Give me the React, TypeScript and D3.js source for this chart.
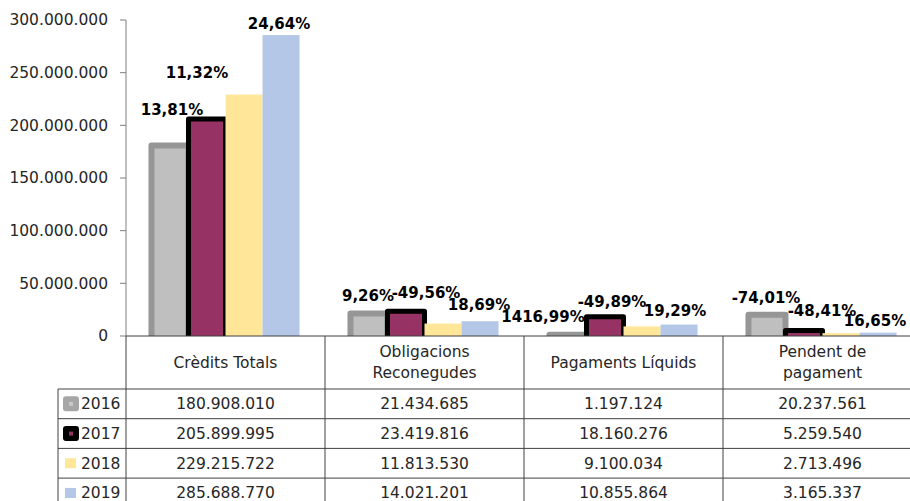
import React from "react";
import * as d3 from "d3";

const W = 910;
const H = 501;

const categories = ["Crèdits Totals", "Obligacions Reconegudes", "Pagaments Líquids", "Pendent de pagament"];
const headerLines = [["Crèdits Totals"], ["Obligacions", "Reconegudes"], ["Pagaments Líquids"], ["Pendent de", "pagament"]];
const years = ["2016", "2017", "2018", "2019"];

const values2016 = [180908010, 21434685, 1197124, 20237561];
const values2017 = [205899995, 23419816, 18160276, 5259540];
const values2018 = [229215722, 11813530, 9100034, 2713496];
const values2019 = [285688770, 14021201, 10855864, 3165337];
const seriesValues = [values2016, values2017, values2018, values2019];

// % change labels shown above 2017, 2018, 2019 bars
const pctLabels = [
  ["13,81%", "11,32%", "24,64%"],
  ["9,26%", "-49,56%", "18,69%"],
  ["1416,99%", "-49,89%", "19,29%"],
  ["-74,01%", "-48,41%", "16,65%"],
];

const yTicks = [0, 50e6, 100e6, 150e6, 200e6, 250e6, 300e6];

// manual label nudges (dx from bar centre, dy from bar top), like the hand-placed Excel labels
const nudges = [
  [[-35, -9], [-47, -22], [-2, -11]],
  [[-38, -16], [-17, -31], [-1, -16]],
  [[-62, 0], [-30, -25], [-4, -14]],
  [[-38, -33], [-19, -22], [-3, -12]],
];

const FILL = ["#bfbfbf", "#963264", "#ffe699", "#b4c7e7"];
const STROKE = ["#969696", "#000000", "none", "none"];
const STROKE_W = [6, 5, 0, 0];

const FONT = "'DejaVu Sans', sans-serif";
const TEXT = "#262626";
const GRID = "#404040";

const fmt = (v: number) => d3.format(",")(v).replace(/,/g, ".");

export default function App() {
  const plotLeft = 126;
  const plotTop = 20;
  const baseY = 336;

  const y = d3.scaleLinear().domain([0, 300e6]).range([baseY, plotTop]);
  const x0 = d3
    .scaleBand<string>()
    .domain(categories)
    .range([plotLeft, 922])
    .paddingInner(0.256)
    .paddingOuter(0.128);
  const x1 = d3.scaleBand<string>().domain(years).range([0, x0.bandwidth()]);
  const cols = d3.scaleBand<string>().domain(categories).range([plotLeft, 922]);

  const rowTop = 389;
  const rowH = 29.7;
  const tableLeft = 58;

  return (
    <svg
      width={W}
      height={H}
      style={{ position: "absolute", left: 0, top: 0, background: "#fff" }}
      fontFamily={FONT}
    >
      <defs>
        <clipPath id="plotClip">
          <rect x={plotLeft} y={0} width={W} height={baseY} />
        </clipPath>
      </defs>

      {/* y axis */}
      <line x1={plotLeft} x2={plotLeft} y1={y(300e6)} y2={baseY} stroke="#7f7f7f" />
      {yTicks.map((t) => (
        <g key={t} transform={`translate(0,${y(t)})`}>
          <line x1={plotLeft - 6} x2={plotLeft} stroke="#7f7f7f" />
          <text x={108} dy="0.35em" textAnchor="end" fontSize={15.5} fill={TEXT}>
            {fmt(t)}
          </text>
        </g>
      ))}

      {/* bars */}
      <g clipPath="url(#plotClip)">
        {years.map((yr, j) =>
          categories.map((c, i) => {
            const v = seriesValues[j][i];
            const bx = (x0(c) ?? 0) + (x1(yr) ?? 0);
            return (
              <rect
                key={yr + c}
                x={bx}
                y={y(v)}
                width={x1.bandwidth()}
                height={baseY - y(v) + 6}
                fill={FILL[j]}
                stroke={STROKE[j]}
                strokeWidth={STROKE_W[j]}
                strokeLinejoin="round"
              />
            );
          })
        )}
      </g>

      {/* pct labels */}
      {categories.map((c, i) =>
        pctLabels[i].map((lab, k) => {
          const j = k + 1;
          const cx = (x0(c) ?? 0) + (x1(years[j]) ?? 0) + x1.bandwidth() / 2;
          const top = y(seriesValues[j][i]);
          return (
            <text
              key={c + lab}
              x={cx + nudges[i][k][0]}
              y={top + nudges[i][k][1]}
              dy="0.35em"
              textAnchor="middle"
              fontSize={15}
              fontWeight="bold"
              fill="#000"
            >
              {lab}
            </text>
          );
        })
      )}

      {/* x axis line */}
      <line x1={plotLeft} x2={W} y1={baseY} y2={baseY} stroke={GRID} />

      {/* data table */}
      <g stroke={GRID} strokeWidth={1}>
        {categories.map((c) => (
          <line key={c} x1={cols(c)} x2={cols(c)} y1={baseY} y2={H} />
        ))}
        <line x1={tableLeft} x2={tableLeft} y1={rowTop} y2={H} />
        {years.map((yr, r) => (
          <line key={yr} x1={tableLeft} x2={W} y1={rowTop + r * rowH} y2={rowTop + r * rowH} />
        ))}
      </g>

      {categories.map((c, i) => {
        const cx = (cols(c) ?? 0) + cols.bandwidth() / 2;
        const lines = headerLines[i];
        const mid = (baseY + rowTop) / 2;
        return (
          <text key={c} textAnchor="middle" fontSize={15.5} fill={TEXT}>
            {lines.map((ln, k) => (
              <tspan key={ln} x={cx} y={mid + (k - (lines.length - 1) / 2) * 21} dy="0.35em">
                {ln}
              </tspan>
            ))}
          </text>
        );
      })}

      {years.map((yr, r) => {
        const cy = rowTop + r * rowH + rowH / 2;
        return (
          <g key={yr}>
            {r < 2 ? (
              <g>
                <rect
                  x={63}
                  y={cy - 7.5}
                  width={16}
                  height={15}
                  rx={3}
                  fill={r === 0 ? "#a6a6a6" : "#000"}
                />
                <rect x={69} y={cy - 2} width={4} height={4} fill={r === 0 ? "#c8c8c8" : FILL[1]} />
              </g>
            ) : (
              <rect x={65} y={cy - 5} width={11} height={10} fill={FILL[r]} />
            )}
            <text x={81} y={cy} dy="0.35em" fontSize={15.5} fill={TEXT}>
              {yr}
            </text>
            {categories.map((c, i) => (
              <text
                key={c}
                x={(cols(c) ?? 0) + cols.bandwidth() / 2}
                y={cy}
                dy="0.35em"
                textAnchor="middle"
                fontSize={15.5}
                fill={TEXT}
              >
                {fmt(seriesValues[r][i])}
              </text>
            ))}
          </g>
        );
      })}
    </svg>
  );
}
